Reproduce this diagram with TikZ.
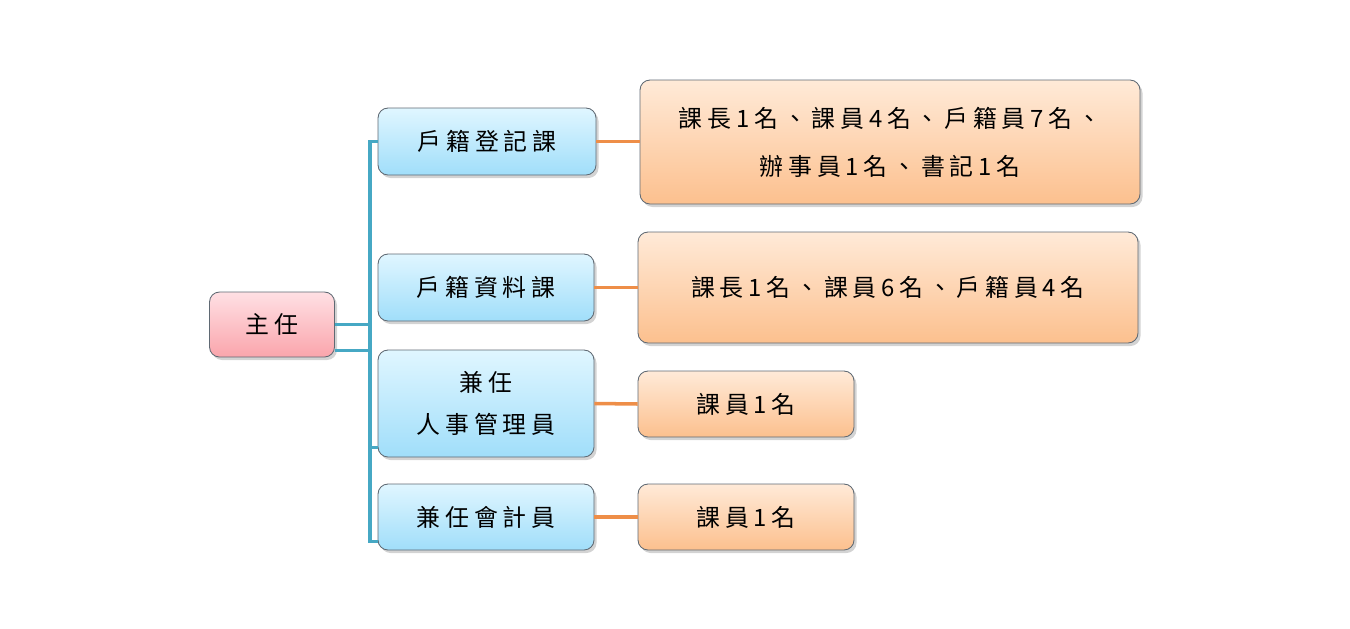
\documentclass[tikz,border=0pt]{standalone}
\usepackage{fontspec}
\usetikzlibrary{shadows}
\newfontfamily\cjk[LetterSpace=20]{Noto Sans CJK TC}

\definecolor{blueTop}{RGB}{224,246,255}
\definecolor{blueBot}{RGB}{160,222,250}
\definecolor{pinkTop}{RGB}{255,224,228}
\definecolor{pinkBot}{RGB}{250,165,172}
\definecolor{orgTop}{RGB}{255,234,216}
\definecolor{orgBot}{RGB}{252,192,142}
\definecolor{boxEdge}{RGB}{95,105,115}
\definecolor{trunkC}{RGB}{70,168,196}
\definecolor{twigC}{RGB}{238,142,72}

\tikzset{
  unitbox/.style={draw=boxEdge, line width=0.5pt, rounded corners=10*0.02cm,
    drop shadow={shadow xshift=0.05cm, shadow yshift=-0.06cm, opacity=0.35},
    font=\cjk\fontsize{13.6pt}{24pt}\selectfont, align=center, inner sep=0pt},
  headbox/.style={unitbox, top color=pinkTop, bottom color=pinkBot},
  deptbox/.style={unitbox, top color=blueTop, bottom color=blueBot},
  staffbox/.style={unitbox, top color=orgTop, bottom color=orgBot},
  trunkline/.style={draw=trunkC, line width=2.2pt},
  twigline/.style={draw=twigC, line width=2pt},
}

\begin{document}
\begin{tikzpicture}[x=0.02cm, y=-0.02cm]

\useasboundingbox (0,0) rectangle (1350,629);

% ── Head ──
\node[headbox, minimum width=125*0.02cm, minimum height=65*0.02cm] (zr) at (272,324.5) {主任};

% ── Sections ──
\node[deptbox, minimum width=218*0.02cm, minimum height=67*0.02cm] (hjdj) at (487,141.5) {戶籍登記課};
\node[deptbox, minimum width=216*0.02cm, minimum height=67*0.02cm] (hjzl) at (486,287.5) {戶籍資料課};
\node[deptbox, minimum width=216*0.02cm, minimum height=107*0.02cm,
      font=\cjk\fontsize{13.6pt}{24pt}\selectfont] (rsgl) at (486,403.5) {兼任\\人事管理員};
\node[deptbox, minimum width=216*0.02cm, minimum height=66*0.02cm] (kjy) at (486,517) {兼任會計員};

% ── Staff ──
\node[staffbox, minimum width=500*0.02cm, minimum height=124*0.02cm,
      font=\cjk\fontsize{13.6pt}{27.3pt}\selectfont] (st1) at (890,142) {課長1名、課員4名、戶籍員7名、\\辦事員1名、書記1名};
\node[staffbox, minimum width=500*0.02cm, minimum height=111*0.02cm] (st2) at (888,287.5) {課長1名、課員6名、戶籍員4名};
\node[staffbox, minimum width=216*0.02cm, minimum height=66*0.02cm] (st3) at (746,404) {課員1名};
\node[staffbox, minimum width=216*0.02cm, minimum height=66*0.02cm] (st4) at (746,517) {課員1名};

% ── Tree ──
\coordinate (trunk) at (370,141.5);
\draw[trunkline] (zr.east) -- (zr.east -| trunk);
\draw[trunkline] ([yshift=-26*0.02cm]zr.east) -- ([yshift=-26*0.02cm]zr.east -| trunk);
\draw[trunkline, line cap=rect] (trunk) -- ([yshift=9*0.02cm]kjy.south west -| trunk);
\draw[trunkline] (trunk) -- (hjdj.west);
\draw[trunkline] ([yshift=10*0.02cm]rsgl.south west -| trunk) -- ([yshift=10*0.02cm]rsgl.south west);
\draw[trunkline] ([yshift=9*0.02cm]kjy.south west -| trunk) -- ([yshift=9*0.02cm]kjy.south west);

% ── Twigs ──
\draw[twigline] (hjdj.east) -- (hjdj.east -| st1.west);
\draw[twigline] (hjzl.east) -- (st2.west);
\draw[twigline] (rsgl.east) -- (st3.west);
\draw[twigline] (kjy.east) -- (st4.west);

\end{tikzpicture}
\end{document}
